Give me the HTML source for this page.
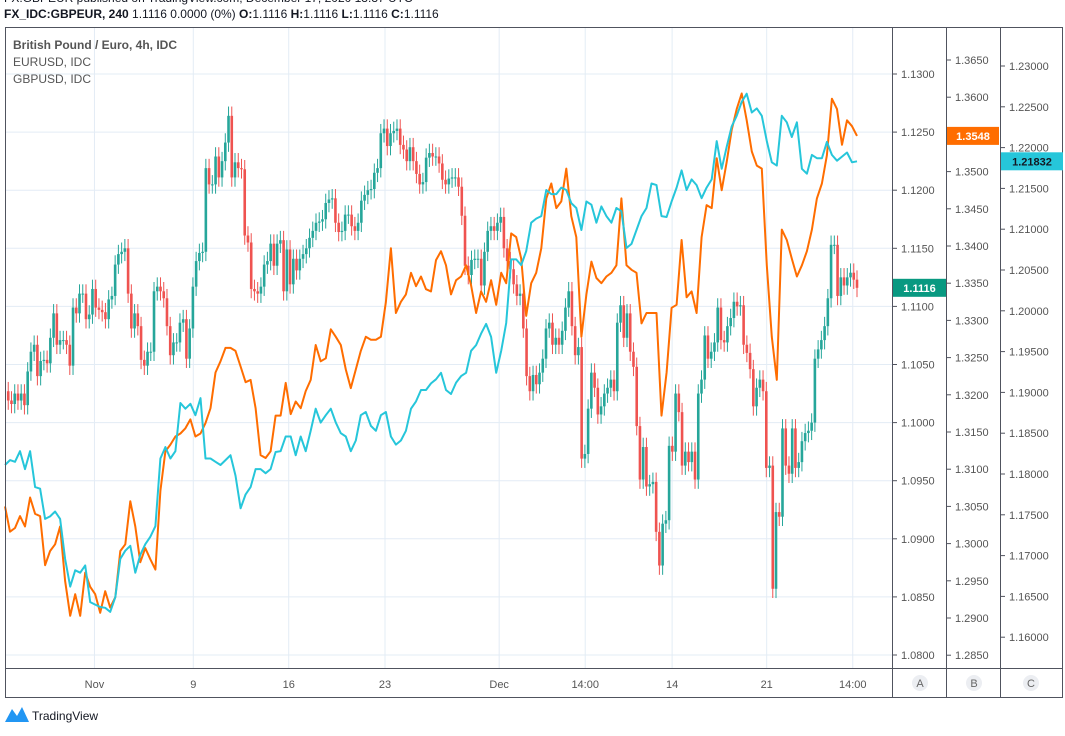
<!DOCTYPE html>
<html><head><meta charset="utf-8">
<style>
body{margin:0;width:1065px;height:731px;background:#fff;overflow:hidden;font-family:"Liberation Sans",sans-serif;}
svg text{font-family:"Liberation Sans",sans-serif;}
</style></head>
<body>
<svg id="chart" width="1065" height="731" xmlns="http://www.w3.org/2000/svg">
<text x="4" y="2" font-size="12" fill="#131722">FX:GBPEUR published on TradingView.com, December 17, 2020 13:37 UTC</text>
<text x="4" y="18" font-size="12" fill="#131722"><tspan font-weight="bold">FX_IDC:GBPEUR, 240</tspan> 1.1116 0.0000 (0%) <tspan font-weight="bold">O:</tspan>1.1116 <tspan font-weight="bold">H:</tspan>1.1116 <tspan font-weight="bold">L:</tspan>1.1116 <tspan font-weight="bold">C:</tspan>1.1116</text>
<g id="grid"></g>
<g id="marks"></g>
<rect x="5.5" y="27.5" width="1057" height="670" fill="none" stroke="#50535e" stroke-width="1"/>
<line x1="892.5" y1="27" x2="892.5" y2="698" stroke="#50535e"/>
<line x1="946.5" y1="27" x2="946.5" y2="698" stroke="#50535e"/>
<line x1="1000.5" y1="27" x2="1000.5" y2="698" stroke="#50535e"/>
<line x1="5" y1="668.5" x2="1063" y2="668.5" stroke="#50535e"/>
<g id="axes"></g>
<text x="13" y="49" font-size="12" font-weight="bold" fill="#555">British Pound / Euro, 4h, IDC</text>
<text x="13" y="66" font-size="12" fill="#555">EURUSD, IDC</text>
<text x="13" y="83" font-size="12" fill="#555">GBPUSD, IDC</text>
<g>
<circle cx="920" cy="683" r="8" fill="#eceef2"/><text x="920" y="687" font-size="11" fill="#666" text-anchor="middle">A</text>
<circle cx="974" cy="683" r="8" fill="#eceef2"/><text x="974" y="687" font-size="11" fill="#666" text-anchor="middle">B</text>
<circle cx="1031" cy="683" r="8" fill="#eceef2"/><text x="1031" y="687" font-size="11" fill="#666" text-anchor="middle">C</text>
</g>
<g>
<path d="M5 722 L12 709 L17 716 L22 707 L29 722 Z" fill="#2196f3"/>
<text x="32" y="720" font-size="12" fill="#131722">TradingView</text>
</g>
</svg>
<script>
const gbpeur=[1.1027,1.1019,1.1016,1.1025,1.1019,1.1025,1.1015,1.1044,1.1061,1.1067,1.1040,1.1053,1.1054,1.1051,1.1073,1.1094,1.1067,1.1071,1.1071,1.1067,1.1049,1.1099,1.1094,1.1111,1.1111,1.1089,1.1093,1.1115,1.1099,1.1097,1.1095,1.1089,1.1106,1.1109,1.1136,1.1145,1.1147,1.1150,1.1111,1.1081,1.1094,1.1083,1.1054,1.1049,1.1061,1.1061,1.1113,1.1117,1.1113,1.1107,1.1083,1.1058,1.1069,1.1069,1.1086,1.1089,1.1055,1.1081,1.1117,1.1139,1.1146,1.1147,1.1219,1.1205,1.1205,1.1229,1.1211,1.1225,1.1241,1.1264,1.1211,1.1224,1.1219,1.1218,1.1161,1.1155,1.1115,1.1113,1.1111,1.1117,1.1136,1.1139,1.1154,1.1135,1.1154,1.1157,1.1113,1.1149,
1.1119,1.1141,1.1131,1.1141,1.1145,1.1150,1.1159,1.1165,1.1172,1.1173,1.1175,1.1189,1.1192,1.1193,1.1172,1.1164,1.1165,1.1179,1.1179,1.1169,1.1165,1.1172,1.1191,1.1196,1.1200,1.1201,1.1215,1.1219,1.1249,1.1253,1.1238,1.1249,1.1251,1.1253,1.1239,1.1235,1.1225,1.1237,1.1225,1.1214,1.1205,1.1207,1.1228,1.1232,1.1229,1.1229,1.1223,1.1209,1.1205,1.1210,1.1211,1.1211,1.1203,1.1178,1.1135,1.1127,1.1140,1.1141,1.1141,1.1118,1.1147,1.1165,1.1169,1.1165,1.1172,1.1177,1.1150,1.1139,1.1132,1.1119,1.1109,1.1111,1.1081,1.1040,1.1027,1.1041,1.1033,1.1043,1.1055,1.1081,1.1086,1.1067,1.1073,1.1067,1.1079,1.1099,1.1113,1.1083,1.1058,1.1065,1.0969,1.0973,1.1012,
1.1043,1.1030,1.1007,1.1014,1.1025,1.1030,1.1037,1.1027,1.1086,1.1101,1.1073,1.1094,1.1061,1.1048,1.0997,1.0951,1.0979,1.0945,1.0947,1.0949,1.0906,1.0877,1.0913,1.0916,1.0980,1.0975,1.1025,1.1009,1.0963,1.0975,1.0966,1.0975,1.0951,1.1025,1.1037,1.1075,1.1055,1.1061,1.1069,1.1099,1.1071,1.1069,1.1083,1.1090,1.1104,1.1100,1.1101,1.1067,1.1060,1.1046,1.1014,1.1030,1.1037,1.1027,1.0961,1.0963,1.0857,1.0923,1.0919,1.0995,1.0963,1.0956,1.0995,1.0961,1.0966,1.0984,1.0991,1.0993,1.1000,1.1055,1.1063,1.1071,1.1083,1.1107,1.1153,1.1153,1.1109,1.1125,1.1118,1.1125,1.1129,1.1123,1.1116];
const gbpusd=[1.3050,1.3016,1.3021,1.3037,1.3023,1.3062,1.3040,1.3037,1.2971,1.2990,1.2999,1.3023,1.2950,1.2903,1.2932,1.2903,1.2961,1.2942,1.2932,1.2907,1.2936,1.2914,1.2928,1.2990,1.2999,1.3057,1.3023,1.2975,1.2994,1.2979,1.2965,1.3071,1.3124,1.3133,1.3144,1.3148,1.3155,1.3167,1.3144,1.3148,1.3162,1.3182,1.3230,1.3245,1.3263,1.3263,1.3259,1.3238,1.3217,1.3220,1.3182,1.3119,1.3115,1.3124,1.3172,1.3172,1.3216,1.3174,1.3191,
1.3182,1.3205,1.3220,1.3267,1.3245,1.3249,1.3288,1.3278,1.3267,1.3234,1.3209,1.3234,1.3259,1.3278,1.3274,1.3274,1.3278,1.3325,1.3397,1.3310,1.3325,1.3335,1.3364,1.3346,1.3359,1.3342,1.3339,1.3381,1.3393,1.3374,1.3335,1.3354,1.3359,1.3374,1.3347,1.3310,1.3339,1.3325,1.3354,1.3321,1.3364,1.3350,1.3417,1.3412,1.3383,1.3306,1.3350,1.3364,1.3397,1.3464,1.3484,1.3451,1.3460,1.3504,1.3440,1.3412,1.3278,1.3335,1.3379,
1.3357,1.3350,1.3359,1.3364,1.3374,1.3464,1.3374,1.3368,1.3364,1.3296,1.3310,1.3310,1.3310,1.3172,1.3230,1.3317,1.3321,1.3408,1.3331,1.3339,1.3310,1.3412,1.3455,1.3451,1.3518,1.3475,1.3513,1.3556,1.3584,1.3605,1.3569,1.3527,1.3508,1.3504,1.3374,1.3278,1.3220,1.3422,1.3408,1.3383,1.3359,1.3374,1.3393,1.3422,1.3464,1.3484,1.3522,1.3598,1.3584,1.3536,1.3569,1.3561,1.3548];
const eurusd=[1.1811,1.1817,1.1815,1.1828,1.1806,1.1828,1.1784,1.1782,1.1745,1.1748,1.1754,1.1745,1.1696,1.1662,1.1682,1.1679,1.1688,1.1643,1.1640,1.1637,1.1636,1.1631,1.1649,1.1696,1.1706,1.1712,1.1679,1.1701,1.1714,1.1723,1.1736,1.1819,1.1833,1.1819,1.1828,1.1887,1.1880,1.1886,1.1872,1.1893,1.1819,1.1819,1.1815,1.1811,1.1817,1.1823,1.1798,1.1758,1.1775,1.1784,1.1806,1.1806,1.1801,1.1806,1.1827,1.1828,1.1846,1.1846,1.1823,
1.1846,1.1828,1.1853,1.1880,1.1863,1.1872,1.1880,1.1863,1.1850,1.1846,1.1828,1.1841,1.1872,1.1876,1.1859,1.1853,1.1872,1.1876,1.1846,1.1836,1.1841,1.1853,1.1880,1.1889,1.1903,1.1903,1.1911,1.1916,1.1924,1.1903,1.1898,1.1912,1.1920,1.1924,1.1951,1.1958,1.1972,1.1984,1.1968,1.1924,1.1951,1.1985,1.2063,1.2063,1.2056,1.2073,1.2108,1.2113,1.2116,1.2148,1.2143,1.2143,1.2151,1.2148,1.2132,1.2126,1.2099,1.2134,1.2130,
1.2108,1.2128,1.2116,1.2108,1.2126,1.2122,1.2077,1.2082,1.2099,1.2116,1.2126,1.2156,1.2154,1.2116,1.2115,1.2134,1.2151,1.2172,1.2148,1.2161,1.2154,1.2138,1.2151,1.2161,1.2208,1.2174,1.2201,1.2226,1.2239,1.2256,1.2266,1.2243,1.2248,1.2239,1.2208,1.2182,1.2178,1.2239,1.2231,1.2213,1.2231,1.2174,1.2168,1.2191,1.2187,1.2187,1.2207,1.2191,1.2184,1.2189,1.2194,1.2182,1.21832];
const ticksA=["1.1300","1.1250","1.1200","1.1150","1.1100","1.1050","1.1000","1.0950","1.0900","1.0850","1.0800"];
const ticksB=["1.3650","1.3600","1.3550","1.3500","1.3450","1.3400","1.3350","1.3300","1.3250","1.3200","1.3150","1.3100","1.3050","1.3000","1.2950","1.2900","1.2850"];
const ticksC=["1.23000","1.22500","1.22000","1.21500","1.21000","1.20500","1.20000","1.19500","1.19000","1.18500","1.18000","1.17500","1.17000","1.16500","1.16000"];
const timeLabels=["Nov","9","16","23","Dec","14:00","14","21","14:00"];
const timeFrac=[0.105,0.221,0.333,0.446,0.580,0.681,0.783,0.894,0.995];

const NS="http://www.w3.org/2000/svg";
const X0=5,X1=857;
const yA=p=>74+(1.13-p)/0.005*58.1;
const yB=p=>60+(1.365-p)/0.005*37.2;
const yC=p=>66+(1.23-p)/0.005*40.8;
const xIdx=(i,n)=>X0+i*(X1-X0)/(n-1);
const xTime=f=>X0+f*(X1-X0);
function mk(tag,attrs,parent){const e=document.createElementNS(NS,tag);for(const k in attrs)e.setAttribute(k,attrs[k]);parent.appendChild(e);return e;}
const grid=document.getElementById('grid'),marks=document.getElementById('marks'),axes=document.getElementById('axes');

ticksA.forEach(t=>{const y=yA(+t);
 const g=mk('line',{x1:5,x2:892,y1:y,y2:y,stroke:'#e3ecf5'},grid);
 
 
 mk('line',{x1:892,x2:897,y1:y,y2:y,stroke:'#50535e'},axes);
 const tx=mk('text',{x:901,y:y+4,'font-size':11,fill:'#555'},axes);tx.textContent=t;
 
 });
ticksB.forEach(t=>{const y=yB(+t);if(y<30||y>665)return;
 mk('line',{x1:946,x2:951,y1:y,y2:y,stroke:'#50535e'},axes);
 const tx=mk('text',{x:955,y:y+4,'font-size':11,fill:'#555'},axes);tx.textContent=t;
 
 });
ticksC.forEach(t=>{const y=yC(+t);if(y<30||y>665)return;
 mk('line',{x1:1000,x2:1005,y1:y,y2:y,stroke:'#50535e'},axes);
 const tx=mk('text',{x:1009,y:y+4,'font-size':11,fill:'#555'},axes);tx.textContent=t;
 
 });
timeLabels.forEach((t,i)=>{const x=xTime(timeFrac[i]);
 const g=mk('line',{x1:x,x2:x,y1:28,y2:668,stroke:'#e3ecf5'},grid);
 
 
 const tx=mk('text',{x:x,y:688,'font-size':11,fill:'#555','text-anchor':'middle'},axes);tx.textContent=t;
 
 });

gbpeur.forEach((c,i)=>{if(i===0)return;const o=gbpeur[i-1];const x=xIdx(i,gbpeur.length);
 const up=c>=o,col=up?'#26a69a':'#ef5350';
 const hi=Math.max(o,c)+0.0008,lo=Math.min(o,c)-0.0008;
 const g=mk('g',{},marks);
 
 
 mk('line',{x1:x,x2:x,y1:yA(hi),y2:yA(lo),stroke:col,'stroke-width':1},g);
 const t=Math.min(yA(o),yA(c)),h=Math.max(1,Math.abs(yA(o)-yA(c)));
 mk('rect',{x:x-1.3,y:t,width:2.6,height:h,fill:col},g);});
function line(arr,fy,col,name){const n=arr.length;
 const d=arr.map((v,i)=>(i?'L':'M')+xIdx(i,n).toFixed(1)+' '+fy(v).toFixed(1)).join(' ');
 const p=mk('path',{d:d,fill:'none',stroke:col,'stroke-width':2,'stroke-linejoin':'round'},marks);
 
 }
line(gbpusd,yB,'#ff6d00','gbpusd-line');
line(eurusd,yC,'#26c6da','eurusd-line');

function badge(x,w,y,txt,bg,fg,name){const g=mk('g',{},axes);
 
 
 mk('rect',{x:x,y:y-9,width:w,height:18,fill:bg},g);
 const t=mk('text',{x:x+w/2,y:y+4,'font-size':11,'font-weight':'bold',fill:fg,'text-anchor':'middle'},g);t.textContent=txt;}
badge(893,53,yA(gbpeur[gbpeur.length-1]),'1.1116','#089981','#fff','gbpeur-price-badge');
badge(947,52,yB(gbpusd[gbpusd.length-1]),'1.3548','#ff6d00','#fff','gbpusd-price-badge');
badge(1001,62,yC(eurusd[eurusd.length-1]),'1.21832','#26c6da','#131722','eurusd-price-badge');
</script>
</body></html>
